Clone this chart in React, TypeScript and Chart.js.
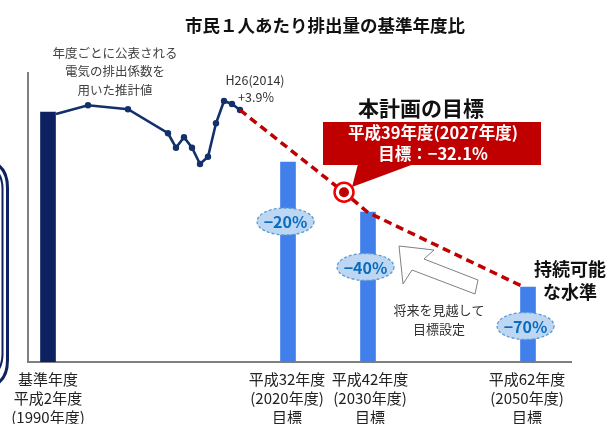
import React, { useEffect, useRef } from "react";
import { Chart, registerables } from "chart.js";

Chart.register(...registerables);

// ---- data ----
const targetYears = [1990, 2020, 2030, 2050];
const targetValues = [100, 80, 60, 30];
const badgeTexts = ["", "−20%", "−40%", "−70%"];
const badgeLevels = [0, 56.2, 38, 14.4];
const categoryLabels = [
  ["基準年度", "平成2年度", "(1990年度)"],
  ["平成32年度", "(2020年度)", "目標"],
  ["平成42年度", "(2030年度)", "目標"],
  ["平成62年度", "(2050年度)", "目標"],
];
const historyYears = [1991, 1995, 2000, 2005, 2006, 2007, 2008, 2009, 2010, 2011, 2012, 2013, 2014];
const historyValues = [99.2, 102.7, 101.1, 91.5, 85.7, 89.9, 85.7, 79.2, 82.1, 95.5, 104.4, 103.2, 100.8];
const pathYears = [2014, 2027, 2030, 2049.2];
const pathValues = [100.8, 67.9, 59.8, 30.4];
const planYears = [2027];
const planValues = [67.9];

const NAVY = "#0D2160";
const LINE_NAVY = "#12306A";
const BLUE = "#4180EA";
const RED = "#C00000";
const JP = '"Noto Sans CJK JP", "Noto Sans", sans-serif';

function roundRectPath(ctx: CanvasRenderingContext2D, x: number, y: number, w: number, h: number, r: number) {
  ctx.beginPath();
  ctx.moveTo(x + r, y);
  ctx.lineTo(x + w - r, y);
  ctx.quadraticCurveTo(x + w, y, x + w, y + r);
  ctx.lineTo(x + w, y + h - r);
  ctx.quadraticCurveTo(x + w, y + h, x + w - r, y + h);
  ctx.lineTo(x + r, y + h);
  ctx.quadraticCurveTo(x, y + h, x, y + h - r);
  ctx.lineTo(x, y + r);
  ctx.quadraticCurveTo(x, y, x + r, y);
  ctx.closePath();
}

function text(ctx: CanvasRenderingContext2D, s: string, x: number, y: number, font: string, color: string, align: CanvasTextAlign = "center") {
  ctx.font = font;
  ctx.fillStyle = color;
  ctx.textAlign = align;
  ctx.textBaseline = "middle";
  ctx.fillText(s, x, y);
}

const labelShift = [0, -1, 2, -1];

const decorPlugin = {
  id: "decor",
  beforeDatasetsDraw(chart: any) {
    const ctx: CanvasRenderingContext2D = chart.ctx;
    const a = chart.chartArea;
    ctx.save();
    // left rounded frame (partially visible)
    ctx.strokeStyle = NAVY;
    ctx.lineWidth = 3;
    roundRectPath(ctx, -200, 160, 207.5, 228, 28);
    ctx.stroke();
    ctx.lineWidth = 2;
    roundRectPath(ctx, -200, 165, 202.5, 213, 24);
    ctx.stroke();
    // axes
    ctx.strokeStyle = "#7F7F7F";
    ctx.lineWidth = 2;
    ctx.beginPath();
    ctx.moveTo(a.left, a.top);
    ctx.lineTo(a.left, a.bottom);
    ctx.lineTo(a.right, a.bottom);
    ctx.stroke();
    ctx.restore();
  },
  afterDatasetsDraw(chart: any) {
    const ctx: CanvasRenderingContext2D = chart.ctx;
    const xs = chart.scales.x;
    const ys = chart.scales.y;
    ctx.save();

    // title
    text(ctx, "市民１人あたり排出量の基準年度比", 325, 25, `bold 17.5px ${JP}`, "#111");

    // note
    const note = ["年度ごとに公表される", "電気の排出係数を", "用いた推計値"];
    note.forEach((s, i) => text(ctx, s, 115, 53 + i * 18.5, `12.5px ${JP}`, "#404040"));

    text(ctx, "H26(2014)", 255, 80, `12.5px ${JP}`, "#333");
    text(ctx, "+3.9%", 256, 97, `12.5px ${JP}`, "#333");

    // plan label
    text(ctx, "本計画の目標", 421, 108, `bold 21px ${JP}`, "#111");
    // callout
    ctx.fillStyle = RED;
    ctx.fillRect(323, 122, 218, 43);
    ctx.beginPath();
    ctx.moveTo(358, 164);
    ctx.lineTo(414, 164);
    ctx.lineTo(352, 187);
    ctx.closePath();
    ctx.fill();
    text(ctx, "平成39年度(2027年度)", 433, 133, `bold 16.5px ${JP}`, "#fff");
    text(ctx, "目標：−32.1%", 433, 154, `bold 16.5px ${JP}`, "#fff");

    // badges
    targetYears.forEach((yr, i) => {
      if (!badgeTexts[i]) return;
      const cx = xs.getPixelForValue(yr) - 2.5;
      const cy = ys.getPixelForValue(badgeLevels[i]);
      ctx.beginPath();
      ctx.ellipse(cx, cy, 28.5, 13.5, 0, 0, Math.PI * 2);
      ctx.fillStyle = "#BDD7F2";
      ctx.fill();
      ctx.setLineDash([3, 2]);
      ctx.lineWidth = 1.3;
      ctx.strokeStyle = "#5B9BD5";
      ctx.stroke();
      ctx.setLineDash([]);
      text(ctx, badgeTexts[i], cx, cy + 0.5, `bold 16px ${JP}`, "#0A6CC0");
    });

    // arrow
    ctx.beginPath();
    const pts = [[399, 246], [434, 250], [424, 259], [478, 280], [475, 294], [412, 270], [403, 284]];
    pts.forEach(([px, py], i) => (i ? ctx.lineTo(px, py) : ctx.moveTo(px, py)));
    ctx.closePath();
    ctx.fillStyle = "#fff";
    ctx.fill();
    ctx.strokeStyle = "#808080";
    ctx.lineWidth = 1;
    ctx.stroke();
    text(ctx, "将来を見越して", 439, 310, `13px ${JP}`, "#333");
    text(ctx, "目標設定", 439, 329, `13px ${JP}`, "#333");

    // sustainable
    text(ctx, "持続可能", 570, 269, `bold 18px ${JP}`, "#111");
    text(ctx, "な水準", 570, 292, `bold 18px ${JP}`, "#111");

    // category labels
    targetYears.forEach((yr, i) => {
      const cx = xs.getPixelForValue(yr) + labelShift[i];
      categoryLabels[i].forEach((s, j) => text(ctx, s, cx, 379 + j * 19, `15px ${JP}`, "#222"));
    });

    ctx.restore();
  },
};

export default function App() {
  const ref = useRef<HTMLCanvasElement>(null);
  useEffect(() => {
    document.body.style.margin = "0";
    const chart = new Chart(ref.current as HTMLCanvasElement, {
      type: "bar",
      data: {
        datasets: [
          {
            type: "line",
            data: planYears.map((x, i) => ({ x, y: planValues[i] })),
            showLine: false,
            pointRadius: 5,
            pointBackgroundColor: RED,
            pointBorderWidth: 0,
            order: 0,
          } as any,
          {
            type: "line",
            data: planYears.map((x, i) => ({ x, y: planValues[i] })),
            showLine: false,
            pointRadius: 9.5,
            pointBackgroundColor: "#fff",
            pointBorderColor: "#F00000",
            pointBorderWidth: 2.5,
            order: 1,
          } as any,
          {
            type: "line",
            data: pathYears.map((x, i) => ({ x, y: pathValues[i] })),
            borderColor: RED,
            borderWidth: 3.5,
            borderDash: [8, 5],
            pointRadius: 0,
            order: 2,
          } as any,
          {
            type: "line",
            data: historyYears.map((x, i) => ({ x, y: historyValues[i] })),
            borderColor: LINE_NAVY,
            borderWidth: 2.6,
            pointRadius: historyYears.map((_, i) => (i === 0 ? 0 : 3.2)),
            pointBackgroundColor: LINE_NAVY,
            pointBorderWidth: 0,
            order: 3,
          } as any,
          {
            type: "bar",
            data: targetYears.map((x, i) => ({ x, y: targetValues[i] })),
            backgroundColor: targetYears.map((_, i) => (i === 0 ? NAVY : BLUE)),
            barThickness: 15,
            order: 4,
          } as any,
        ],
      },
      options: {
        responsive: false,
        animation: false,
        events: [],
        layout: { padding: { left: 28, top: 72, right: 36, bottom: 62 } },
        plugins: { legend: { display: false }, tooltip: { enabled: false }, title: { display: false } },
        scales: {
          x: { type: "linear", min: 1987.5, max: 2055.5, offset: false, display: false },
          y: { min: 0, max: 116, display: false },
        },
      },
      plugins: [decorPlugin],
    } as any);
    return () => chart.destroy();
  }, []);
  return (
    <div style={{ width: 608, height: 424 }}>
      <canvas ref={ref} width={608} height={424} style={{ display: "block" }} />
    </div>
  );
}
